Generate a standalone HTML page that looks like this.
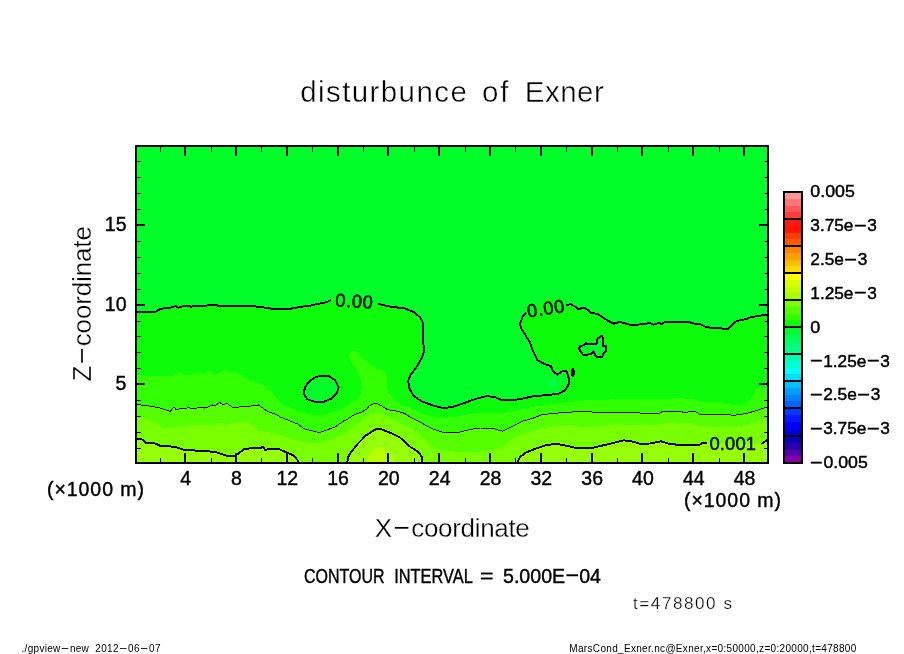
<!DOCTYPE html>
<html lang="en"><head><meta charset="utf-8"><title>disturbunce of Exner</title>
<style>
html,body{margin:0;padding:0;background:#fff;}
body{width:904px;height:654px;overflow:hidden;font-family:"Liberation Sans",sans-serif;}
svg{display:block;will-change:transform;}
text{font-family:"Liberation Sans",sans-serif;fill:#000;}
.thin1{stroke:#fff;stroke-width:.4px;}
.thin2{stroke:#fff;stroke-width:.3px;}
.thin3{stroke:#fff;stroke-width:.25px;}
.bold{stroke:#000;stroke-width:.45px;}
.semi{stroke:#000;stroke-width:.4px;}
</style></head><body>
<svg width="904" height="654" viewBox="0 0 904 654">
<rect width="904" height="654" fill="#fff"/>
<g shape-rendering="crispEdges" stroke="none">
<rect x="136" y="146" width="632" height="317" fill="#00ff28"/>
<polygon fill="#0cfc0a" points="136.0,312.1 156.1,311.5 160.5,308.8 170.5,307.7 176.0,305.9 178.2,307.7 183.8,305.9 191.5,306.6 197.0,305.5 207.0,305.5 209.2,304.8 217.0,304.8 218.0,305.9 254.6,305.9 256.8,306.8 262.3,306.8 264.5,307.7 269.0,307.7 271.2,308.8 291.0,308.8 293.3,307.7 301.0,307.3 304.4,305.9 311.0,305.5 315.4,304.4 321.0,303.3 326.5,302.2 330.9,300.0 378.2,303.9 390.1,306.6 404.8,308.4 413.9,312.1 420.4,317.6 423.1,323.1 423.1,344.2 424.0,346.0 423.5,353.4 421.3,358.9 415.8,368.1 410.3,375.4 408.1,380.9 409.4,388.3 413.3,395.6 422.1,401.6 433.2,405.5 442.0,407.7 450.9,407.4 461.9,403.8 477.4,398.3 486.3,396.3 494.0,396.7 501.6,400.0 510.7,400.4 521.7,398.9 532.8,396.3 545.6,395.2 558.4,393.9 564.9,390.3 568.5,384.8 568.5,377.4 566.7,371.4 562.1,371.4 557.5,374.7 552.9,371.0 551.1,366.4 543.8,363.7 537.3,360.0 536.4,358.0 532.8,350.6 530.0,342.4 525.4,335.0 521.7,329.5 519.9,324.0 522.7,316.7 526.3,313.0 523.6,313.9 536.9,305.3 549.5,298.3 558.1,298.3 565.4,305.9 565.8,305.7 570.4,303.9 575.0,306.6 578.6,309.4 582.3,307.5 584.6,307.5 591.0,312.7 597.4,313.9 607.5,320.4 613.9,323.7 619.4,321.8 629.5,324.6 638.7,324.6 649.7,323.1 653.4,324.6 658.9,322.8 661.7,324.0 665.3,321.8 690.1,321.8 691.5,323.3 700.6,324.2 705.2,326.7 711.0,327.8 720.1,328.4 728.2,328.8 735.0,321.9 740.8,320.0 746.5,319.2 748.8,317.8 758.0,315.8 768.0,314.7 768.0,463.0 136.0,463.0"/>
<polygon fill="#00ff28" points="323.1,375.6 329.5,376.5 335.0,380.2 338.7,387.5 336.9,393.0 331.4,398.5 324.0,401.8 314.9,401.8 307.5,399.4 303.9,393.9 304.8,387.5 309.4,381.1 315.8,376.9"/>
<polygon fill="#00ff28" points="579.1,348.5 580.2,346.0 583.3,345.5 585.5,343.0 587.7,344.4 591.3,344.1 596.5,343.6 597.1,341.6 597.7,338.3 599.9,337.5 601.5,335.8 602.6,337.2 602.9,341.6 603.2,345.8 606.0,346.0 606.0,350.7 603.7,353.2 602.6,354.9 602.4,356.8 596.5,356.8 594.9,354.3 593.5,351.3 591.6,353.5 588.3,354.3 587.1,355.2 583.3,355.2 581.9,353.2 580.0,350.7"/>
<circle cx="553" cy="382.8" r="3.6" fill="#00ff50"/>
<polygon fill="#32ff00" points="136.0,374.4 148.3,376.2 172.2,375.8 175.9,373.2 183.2,373.6 188.7,375.8 194.2,373.2 207.0,372.7 210.7,370.8 214.4,375.4 225.4,369.9 230.9,373.6 234.6,371.2 240.1,374.5 247.4,379.6 258.4,382.9 267.6,387.5 275.0,395.8 280.5,403.1 289.2,407.7 298.3,411.4 311.2,415.0 322.2,415.0 335.0,411.4 342.2,408.5 354.4,401.1 360.6,395.0 362.4,386.5 361.2,379.1 356.9,370.6 352.0,363.2 348.9,355.9 351.4,351.6 356.3,351.0 361.8,357.1 369.1,363.8 376.5,368.7 383.8,370.6 387.5,374.8 386.8,382.8 387.5,391.3 391.1,396.2 400.0,404.4 411.1,408.3 422.1,413.8 433.2,416.6 444.2,417.7 455.3,417.1 466.4,414.9 477.4,413.3 488.5,412.7 503.4,413.0 518.1,410.5 532.8,406.8 547.4,405.0 562.1,403.1 576.8,401.3 590.0,399.8 616.7,399.4 671.7,398.5 680.0,398.0 697.2,399.7 700.0,401.9 721.4,402.4 732.1,405.1 742.8,404.6 750.3,400.3 753.5,395.0 755.7,389.6 758.3,388.0 768.0,388.3 768.0,463.0 136.0,463.0"/>
<polygon fill="#55ff00" points="136.0,404.4 148.3,405.9 159.4,407.7 170.4,411.4 174.0,406.8 175.9,409.5 188.7,407.7 194.2,409.0 199.7,407.3 205.2,408.1 212.6,405.0 214.4,405.9 219.9,402.6 222.7,404.4 227.2,403.7 232.8,407.3 238.3,407.2 243.8,406.2 254.8,405.9 258.4,405.0 267.6,411.4 276.8,414.7 280.0,416.9 289.2,420.6 298.3,424.2 303.9,428.8 311.2,430.6 319.4,432.5 327.7,429.7 335.0,427.0 344.2,420.6 347.1,419.5 354.4,414.6 361.8,412.1 366.7,409.1 369.1,406.0 374.6,403.3 378.9,404.2 387.5,409.7 396.0,410.9 404.6,413.3 411.1,417.7 422.1,423.2 431.0,428.2 442.0,432.1 459.7,432.1 470.8,429.3 479.6,428.0 491.8,428.2 502.5,431.2 510.7,427.0 521.7,421.5 532.8,418.3 541.9,414.7 554.8,413.2 569.4,412.3 582.3,411.0 590.0,411.9 598.3,412.3 638.7,412.8 642.4,413.6 658.9,413.6 662.6,411.4 680.9,411.4 684.6,412.9 689.2,411.8 696.1,412.0 699.5,414.1 728.2,414.1 730.5,415.0 736.2,415.0 746.5,413.5 758.0,410.1 768.0,406.6 768.0,463.0 136.0,463.0"/>
<polygon fill="#78ff00" points="136.0,417.2 144.7,418.7 150.2,421.5 157.5,423.3 163.0,427.9 174.0,427.9 181.4,427.0 192.4,424.6 203.4,424.2 214.4,426.0 219.9,422.4 225.4,425.1 234.6,422.4 243.8,421.5 251.1,424.2 258.4,430.6 269.4,432.5 276.8,434.3 284.1,437.0 289.2,437.0 298.3,440.7 309.4,442.6 322.2,442.6 333.2,438.9 344.2,433.4 355.2,426.0 364.4,418.7 371.7,414.1 377.2,413.2 386.4,416.0 397.4,420.6 400.0,423.2 411.1,428.2 422.1,437.0 428.8,443.7 436.5,449.2 449.8,451.4 466.4,452.0 483.0,451.4 500.0,448.1 512.6,438.9 525.4,433.4 540.1,428.8 554.8,426.0 573.1,425.1 580.0,427.0 598.3,426.4 616.7,424.2 635.0,425.1 653.4,425.1 671.7,422.4 690.1,423.3 697.2,425.6 714.4,426.7 731.6,427.3 743.1,425.6 754.5,422.7 768.0,418.1 768.0,463.0 136.0,463.0"/>
<polygon fill="#96ff0a" points="136.0,438.9 141.0,438.5 145.6,442.6 153.9,442.9 161.2,446.2 174.0,446.6 183.2,449.5 203.4,451.2 214.4,451.7 226.3,455.6 235.5,455.6 243.8,449.4 249.3,448.4 260.3,448.4 263.0,446.6 264.9,449.9 271.3,448.6 278.6,449.0 287.3,452.7 293.8,455.4 297.4,460.0 298.3,463.0 136.0,463.0"/>
<polygon fill="#96ff0a" points="347.0,463.0 348.8,455.4 357.1,444.4 366.2,435.2 375.4,429.4 380.0,428.8 384.6,430.6 393.8,434.3 400.0,437.6 411.1,447.5 417.7,451.4 421.6,456.4 422.2,463.0"/>
<polygon fill="#96ff0a" points="517.2,463.0 519.9,457.2 525.4,452.7 534.6,449.0 545.6,445.3 554.8,443.9 562.1,444.8 575.0,447.7 592.8,447.7 607.5,444.4 616.7,442.0 623.1,440.4 629.5,440.7 640.6,443.9 649.7,443.5 660.7,441.3 668.1,443.5 679.1,445.0 699.5,444.8 702.9,442.8 706.9,442.8 710.0,443.5 756.0,444.5 761.4,443.9 768.0,439.3 768.0,463.0"/>
<polygon fill="#b9ff00" points="366.5,463.0 368.8,455.3 373.2,449.8 378.7,447.0 384.2,448.1 389.8,453.1 393.7,458.6 394.2,463.0"/>
</g>
<g shape-rendering="crispEdges" fill="none" stroke="#000" stroke-linejoin="round">
<polyline stroke-width="2" points="136.0,312.1 156.1,311.5 160.5,308.8 170.5,307.7 176.0,305.9 178.2,307.7 183.8,305.9 191.5,306.6 197.0,305.5 207.0,305.5 209.2,304.8 217.0,304.8 218.0,305.9 254.6,305.9 256.8,306.8 262.3,306.8 264.5,307.7 269.0,307.7 271.2,308.8 291.0,308.8 293.3,307.7 301.0,307.3 304.4,305.9 311.0,305.5 315.4,304.4 321.0,303.3 326.5,302.2 330.9,300.0"/>
<polyline stroke-width="2" points="378.2,303.9 390.1,306.6 404.8,308.4 413.9,312.1 420.4,317.6 423.1,323.1 423.1,344.2 424.0,346.0 423.5,353.4 421.3,358.9 415.8,368.1 410.3,375.4 408.1,380.9 409.4,388.3 413.3,395.6 422.1,401.6 433.2,405.5 442.0,407.7 450.9,407.4 461.9,403.8 477.4,398.3 486.3,396.3 494.0,396.7 501.6,400.0 510.7,400.4 521.7,398.9 532.8,396.3 545.6,395.2 558.4,393.9 564.9,390.3 568.5,384.8 568.5,377.4 566.7,371.4 562.1,371.4 557.5,374.7 552.9,371.0 551.1,366.4 543.8,363.7 537.3,360.0 536.4,358.0 532.8,350.6 530.0,342.4 525.4,335.0 521.7,329.5 519.9,324.0 522.7,316.7 526.3,313.0"/>
<polyline stroke-width="2" points="565.8,305.7 570.4,303.9 575.0,306.6 578.6,309.4 582.3,307.5 584.6,307.5 591.0,312.7 597.4,313.9 607.5,320.4 613.9,323.7 619.4,321.8 629.5,324.6 638.7,324.6 649.7,323.1 653.4,324.6 658.9,322.8 661.7,324.0 665.3,321.8 690.1,321.8 691.5,323.3 700.6,324.2 705.2,326.7 711.0,327.8 720.1,328.4 728.2,328.8 735.0,321.9 740.8,320.0 746.5,319.2 748.8,317.8 758.0,315.8 768.0,314.7"/>
<polyline stroke-width="2" points="136.0,438.9 141.0,438.5 145.6,442.6 153.9,442.9 161.2,446.2 174.0,446.6 183.2,449.5 203.4,451.2 214.4,451.7 226.3,455.6 235.5,455.6 243.8,449.4 249.3,448.4 260.3,448.4 263.0,446.6 264.9,449.9 271.3,448.6 278.6,449.0 287.3,452.7 293.8,455.4 297.4,460.0 298.3,463.0"/>
<polyline stroke-width="2" points="347.0,463.0 348.8,455.4 357.1,444.4 366.2,435.2 375.4,429.4 380.0,428.8 384.6,430.6 393.8,434.3 400.0,437.6 411.1,447.5 417.7,451.4 421.6,456.4 422.2,463.0"/>
<polyline stroke-width="2" points="517.2,463.0 519.9,457.2 525.4,452.7 534.6,449.0 545.6,445.3 554.8,443.9 562.1,444.8 575.0,447.7 592.8,447.7 607.5,444.4 616.7,442.0 623.1,440.4 629.5,440.7 640.6,443.9 649.7,443.5 660.7,441.3 668.1,443.5 679.1,445.0 699.5,444.8 702.9,442.8 706.9,442.8"/>
<polyline stroke-width="2" points="761.4,443.9 768.0,439.3"/>
<polygon stroke-width="2" points="323.1,375.6 329.5,376.5 335.0,380.2 338.7,387.5 336.9,393.0 331.4,398.5 324.0,401.8 314.9,401.8 307.5,399.4 303.9,393.9 304.8,387.5 309.4,381.1 315.8,376.9"/>
<polygon stroke-width="2" points="579.1,348.5 580.2,346.0 583.3,345.5 585.5,343.0 587.7,344.4 591.3,344.1 596.5,343.6 597.1,341.6 597.7,338.3 599.9,337.5 601.5,335.8 602.6,337.2 602.9,341.6 603.2,345.8 606.0,346.0 606.0,350.7 603.7,353.2 602.6,354.9 602.4,356.8 596.5,356.8 594.9,354.3 593.5,351.3 591.6,353.5 588.3,354.3 587.1,355.2 583.3,355.2 581.9,353.2 580.0,350.7"/>
<polyline stroke-width="1" points="136.0,404.4 148.3,405.9 159.4,407.7 170.4,411.4 174.0,406.8 175.9,409.5 188.7,407.7 194.2,409.0 199.7,407.3 205.2,408.1 212.6,405.0 214.4,405.9 219.9,402.6 222.7,404.4 227.2,403.7 232.8,407.3 238.3,407.2 243.8,406.2 254.8,405.9 258.4,405.0 267.6,411.4 276.8,414.7 280.0,416.9 289.2,420.6 298.3,424.2 303.9,428.8 311.2,430.6 319.4,432.5 327.7,429.7 335.0,427.0 344.2,420.6 347.1,419.5 354.4,414.6 361.8,412.1 366.7,409.1 369.1,406.0 374.6,403.3 378.9,404.2 387.5,409.7 396.0,410.9 404.6,413.3 411.1,417.7 422.1,423.2 431.0,428.2 442.0,432.1 459.7,432.1 470.8,429.3 479.6,428.0 491.8,428.2 502.5,431.2 510.7,427.0 521.7,421.5 532.8,418.3 541.9,414.7 554.8,413.2 569.4,412.3 582.3,411.0 590.0,411.9 598.3,412.3 638.7,412.8 642.4,413.6 658.9,413.6 662.6,411.4 680.9,411.4 684.6,412.9 689.2,411.8 696.1,412.0 699.5,414.1 728.2,414.1 730.5,415.0 736.2,415.0 746.5,413.5 758.0,410.1 768.0,406.6"/>
<ellipse cx="572.8" cy="372.7" rx="2" ry="4.6" fill="#000" stroke="none"/>
</g>
<g shape-rendering="crispEdges" stroke="#000" fill="none">
<path stroke-width="1" d="M160.5 463 V458 M160.5 146 V152"/>
<path stroke-width="2" d="M185 463 V453 M185 146 V156"/>
<path stroke-width="1" d="M211.5 463 V458 M211.5 146 V152"/>
<path stroke-width="2" d="M236 463 V453 M236 146 V156"/>
<path stroke-width="1" d="M261.5 463 V458 M261.5 146 V152"/>
<path stroke-width="2" d="M287 463 V453 M287 146 V156"/>
<path stroke-width="1" d="M312.5 463 V458 M312.5 146 V152"/>
<path stroke-width="2" d="M338 463 V453 M338 146 V156"/>
<path stroke-width="1" d="M363.5 463 V458 M363.5 146 V152"/>
<path stroke-width="2" d="M388 463 V453 M388 146 V156"/>
<path stroke-width="1" d="M414.5 463 V458 M414.5 146 V152"/>
<path stroke-width="2" d="M439 463 V453 M439 146 V156"/>
<path stroke-width="1" d="M465.5 463 V458 M465.5 146 V152"/>
<path stroke-width="2" d="M490 463 V453 M490 146 V156"/>
<path stroke-width="1" d="M515.5 463 V458 M515.5 146 V152"/>
<path stroke-width="2" d="M541 463 V453 M541 146 V156"/>
<path stroke-width="1" d="M566.5 463 V458 M566.5 146 V152"/>
<path stroke-width="2" d="M592 463 V453 M592 146 V156"/>
<path stroke-width="1" d="M617.5 463 V458 M617.5 146 V152"/>
<path stroke-width="2" d="M642 463 V453 M642 146 V156"/>
<path stroke-width="1" d="M668.5 463 V458 M668.5 146 V152"/>
<path stroke-width="2" d="M693 463 V453 M693 146 V156"/>
<path stroke-width="1" d="M719.5 463 V458 M719.5 146 V152"/>
<path stroke-width="2" d="M744 463 V453 M744 146 V156"/>
<path stroke-width="1" d="M136 448.5 H141 M768 448.5 H764"/>
<path stroke-width="1" d="M136 432.5 H141 M768 432.5 H764"/>
<path stroke-width="1" d="M136 416.5 H141 M768 416.5 H764"/>
<path stroke-width="1" d="M136 400.5 H141 M768 400.5 H764"/>
<path stroke-width="2" d="M136 384 H145 M768 384 H759"/>
<path stroke-width="1" d="M136 368.5 H141 M768 368.5 H764"/>
<path stroke-width="1" d="M136 352.5 H141 M768 352.5 H764"/>
<path stroke-width="1" d="M136 336.5 H141 M768 336.5 H764"/>
<path stroke-width="1" d="M136 321.5 H141 M768 321.5 H764"/>
<path stroke-width="2" d="M136 305 H145 M768 305 H759"/>
<path stroke-width="1" d="M136 289.5 H141 M768 289.5 H764"/>
<path stroke-width="1" d="M136 273.5 H141 M768 273.5 H764"/>
<path stroke-width="1" d="M136 257.5 H141 M768 257.5 H764"/>
<path stroke-width="1" d="M136 241.5 H141 M768 241.5 H764"/>
<path stroke-width="2" d="M136 225 H145 M768 225 H759"/>
<path stroke-width="1" d="M136 209.5 H141 M768 209.5 H764"/>
<path stroke-width="1" d="M136 193.5 H141 M768 193.5 H764"/>
<path stroke-width="1" d="M136 177.5 H141 M768 177.5 H764"/>
<path stroke-width="1" d="M136 161.5 H141 M768 161.5 H764"/>
<rect x="136" y="146" width="632" height="317" stroke-width="2"/>
</g>
<g shape-rendering="crispEdges">
<rect x="784" y="192.00" width="18" height="7.25" fill="rgb(255,150,150)"/>
<rect x="784" y="198.75" width="18" height="7.25" fill="rgb(255,118,118)"/>
<rect x="784" y="205.50" width="18" height="7.25" fill="rgb(255,88,88)"/>
<rect x="784" y="212.25" width="18" height="7.25" fill="rgb(255,60,60)"/>
<rect x="784" y="219.00" width="18" height="7.25" fill="rgb(255,25,20)"/>
<rect x="784" y="225.75" width="18" height="7.25" fill="rgb(255,20,0)"/>
<rect x="784" y="232.50" width="18" height="7.25" fill="rgb(255,60,0)"/>
<rect x="784" y="239.25" width="18" height="7.25" fill="rgb(255,90,0)"/>
<rect x="784" y="246.00" width="18" height="7.25" fill="rgb(255,130,0)"/>
<rect x="784" y="252.75" width="18" height="7.25" fill="rgb(255,160,0)"/>
<rect x="784" y="259.50" width="18" height="7.25" fill="rgb(255,190,0)"/>
<rect x="784" y="266.25" width="18" height="7.25" fill="rgb(255,220,0)"/>
<rect x="784" y="273.00" width="18" height="7.25" fill="rgb(255,255,0)"/>
<rect x="784" y="279.75" width="18" height="7.25" fill="rgb(215,255,0)"/>
<rect x="784" y="286.50" width="18" height="7.25" fill="rgb(190,255,0)"/>
<rect x="784" y="293.25" width="18" height="7.25" fill="rgb(165,255,0)"/>
<rect x="784" y="300.00" width="18" height="7.25" fill="rgb(120,255,0)"/>
<rect x="784" y="306.75" width="18" height="7.25" fill="rgb(85,255,0)"/>
<rect x="784" y="313.50" width="18" height="7.25" fill="rgb(50,255,0)"/>
<rect x="784" y="320.25" width="18" height="7.25" fill="rgb(12,252,10)"/>
<rect x="784" y="327.00" width="18" height="7.25" fill="rgb(0,255,40)"/>
<rect x="784" y="333.75" width="18" height="7.25" fill="rgb(0,255,75)"/>
<rect x="784" y="340.50" width="18" height="7.25" fill="rgb(0,255,110)"/>
<rect x="784" y="347.25" width="18" height="7.25" fill="rgb(0,255,140)"/>
<rect x="784" y="354.00" width="18" height="7.25" fill="rgb(0,255,175)"/>
<rect x="784" y="360.75" width="18" height="7.25" fill="rgb(0,255,210)"/>
<rect x="784" y="367.50" width="18" height="7.25" fill="rgb(0,255,245)"/>
<rect x="784" y="374.25" width="18" height="7.25" fill="rgb(0,225,255)"/>
<rect x="784" y="381.00" width="18" height="7.25" fill="rgb(0,195,255)"/>
<rect x="784" y="387.75" width="18" height="7.25" fill="rgb(0,160,255)"/>
<rect x="784" y="394.50" width="18" height="7.25" fill="rgb(0,130,255)"/>
<rect x="784" y="401.25" width="18" height="7.25" fill="rgb(0,100,255)"/>
<rect x="784" y="408.00" width="18" height="7.50" fill="rgb(0,60,255)"/>
<rect x="784" y="415.00" width="18" height="7.50" fill="rgb(0,25,255)"/>
<rect x="784" y="422.00" width="18" height="7.50" fill="rgb(0,0,255)"/>
<rect x="784" y="429.00" width="18" height="7.50" fill="rgb(0,0,215)"/>
<rect x="784" y="436.00" width="18" height="7.25" fill="rgb(10,0,190)"/>
<rect x="784" y="442.75" width="18" height="7.25" fill="rgb(45,0,170)"/>
<rect x="784" y="449.50" width="18" height="7.25" fill="rgb(85,0,170)"/>
<rect x="784" y="456.25" width="18" height="7.25" fill="rgb(135,0,170)"/>
<path stroke="#000" stroke-width="2" d="M784 219 H802"/>
<path stroke="#000" stroke-width="2" d="M784 246 H802"/>
<path stroke="#000" stroke-width="2" d="M784 273 H802"/>
<path stroke="#000" stroke-width="2" d="M784 300 H802"/>
<path stroke="#000" stroke-width="2" d="M784 327 H802"/>
<path stroke="#000" stroke-width="2" d="M784 354 H802"/>
<path stroke="#000" stroke-width="2" d="M784 381 H802"/>
<path stroke="#000" stroke-width="2" d="M784 408 H802"/>
<path stroke="#000" stroke-width="2" d="M784 436 H802"/>
<rect x="784" y="192" width="18" height="271" fill="none" stroke="#000" stroke-width="2"/>
</g>
<text y="102" font-size="29.5" class="thin1"><tspan x="300.3" textLength="166.5" lengthAdjust="spacing">disturbunce</tspan> <tspan x="482.0" textLength="26.5" lengthAdjust="spacing">of</tspan> <tspan x="524.8" textLength="79" lengthAdjust="spacing">Exner</tspan></text>
<text transform="translate(374.80 537.00)" font-size="26" textLength="155.00" lengthAdjust="spacing" class="thin2">X<tspan textLength="19.8" lengthAdjust="spacingAndGlyphs" dy="-1.95">-</tspan><tspan dy="1.95">coordinate</tspan></text>
<text transform="translate(91.00 381.60) rotate(-90)" font-size="26" textLength="155.50" lengthAdjust="spacing" class="thin2">Z<tspan textLength="19.8" lengthAdjust="spacingAndGlyphs" dy="-1.95">-</tspan><tspan dy="1.95">coordinate</tspan></text>
<text transform="translate(180.18 485.00)" font-size="19.5" textLength="10.90" lengthAdjust="spacing" class="semi">4</text>
<text transform="translate(230.99 485.00)" font-size="19.5" textLength="10.90" lengthAdjust="spacing" class="semi">8</text>
<text transform="translate(276.41 485.00)" font-size="19.5" textLength="21.70" lengthAdjust="spacing" class="semi">12</text>
<text transform="translate(327.22 485.00)" font-size="19.5" textLength="21.70" lengthAdjust="spacing" class="semi">16</text>
<text transform="translate(378.04 485.00)" font-size="19.5" textLength="21.70" lengthAdjust="spacing" class="semi">20</text>
<text transform="translate(428.86 485.00)" font-size="19.5" textLength="21.70" lengthAdjust="spacing" class="semi">24</text>
<text transform="translate(479.67 485.00)" font-size="19.5" textLength="21.70" lengthAdjust="spacing" class="semi">28</text>
<text transform="translate(530.49 485.00)" font-size="19.5" textLength="21.70" lengthAdjust="spacing" class="semi">32</text>
<text transform="translate(581.30 485.00)" font-size="19.5" textLength="21.70" lengthAdjust="spacing" class="semi">36</text>
<text transform="translate(632.12 485.00)" font-size="19.5" textLength="21.70" lengthAdjust="spacing" class="semi">40</text>
<text transform="translate(682.94 485.00)" font-size="19.5" textLength="21.70" lengthAdjust="spacing" class="semi">44</text>
<text transform="translate(733.75 485.00)" font-size="19.5" textLength="21.70" lengthAdjust="spacing" class="semi">48</text>
<text transform="translate(115.60 390.00)" font-size="19.5" textLength="10.90" lengthAdjust="spacing" class="semi">5</text>
<text transform="translate(104.80 311.00)" font-size="19.5" textLength="21.70" lengthAdjust="spacing" class="semi">10</text>
<text transform="translate(104.80 231.00)" font-size="19.5" textLength="21.70" lengthAdjust="spacing" class="semi">15</text>
<text transform="translate(47.00 496.00)" font-size="19.5" textLength="97.00" lengthAdjust="spacing" class="semi">(&#215;1000 m)</text>
<text transform="translate(684.00 507.00)" font-size="19.5" textLength="97.00" lengthAdjust="spacing" class="semi">(&#215;1000 m)</text>
<text transform="translate(810.30 197.00)" font-size="17" textLength="44.50" lengthAdjust="spacingAndGlyphs" class="bold">0.005</text>
<text transform="translate(810.30 230.90)" font-size="17" textLength="66.50" lengthAdjust="spacingAndGlyphs" class="bold">3.75e<tspan textLength="13.6" lengthAdjust="spacingAndGlyphs" dy="-1.27">-</tspan><tspan dy="1.27">3</tspan></text>
<text transform="translate(810.30 264.80)" font-size="17" textLength="57.00" lengthAdjust="spacingAndGlyphs" class="bold">2.5e<tspan textLength="13.6" lengthAdjust="spacingAndGlyphs" dy="-1.27">-</tspan><tspan dy="1.27">3</tspan></text>
<text transform="translate(810.30 298.70)" font-size="17" textLength="66.50" lengthAdjust="spacingAndGlyphs" class="bold">1.25e<tspan textLength="13.6" lengthAdjust="spacingAndGlyphs" dy="-1.27">-</tspan><tspan dy="1.27">3</tspan></text>
<text transform="translate(810.30 332.60)" font-size="17" textLength="10.00" lengthAdjust="spacingAndGlyphs" class="bold">0</text>
<text transform="translate(809.40 366.50)" font-size="17" textLength="80.40" lengthAdjust="spacingAndGlyphs" class="bold"><tspan textLength="13.6" lengthAdjust="spacingAndGlyphs" dy="-1.27">-</tspan><tspan dy="1.27">1.25e</tspan><tspan textLength="13.6" lengthAdjust="spacingAndGlyphs" dy="-1.27">-</tspan><tspan dy="1.27">3</tspan></text>
<text transform="translate(809.40 400.40)" font-size="17" textLength="70.90" lengthAdjust="spacingAndGlyphs" class="bold"><tspan textLength="13.6" lengthAdjust="spacingAndGlyphs" dy="-1.27">-</tspan><tspan dy="1.27">2.5e</tspan><tspan textLength="13.6" lengthAdjust="spacingAndGlyphs" dy="-1.27">-</tspan><tspan dy="1.27">3</tspan></text>
<text transform="translate(809.40 434.30)" font-size="17" textLength="80.40" lengthAdjust="spacingAndGlyphs" class="bold"><tspan textLength="13.6" lengthAdjust="spacingAndGlyphs" dy="-1.27">-</tspan><tspan dy="1.27">3.75e</tspan><tspan textLength="13.6" lengthAdjust="spacingAndGlyphs" dy="-1.27">-</tspan><tspan dy="1.27">3</tspan></text>
<text transform="translate(809.40 468.20)" font-size="17" textLength="58.40" lengthAdjust="spacingAndGlyphs" class="bold"><tspan textLength="13.6" lengthAdjust="spacingAndGlyphs" dy="-1.27">-</tspan><tspan dy="1.27">0.005</tspan></text>
<text y="583" font-size="20.3" class="semi"><tspan x="304" textLength="80.5" lengthAdjust="spacingAndGlyphs">CONTOUR</tspan> <tspan x="394.2" textLength="78" lengthAdjust="spacingAndGlyphs">INTERVAL</tspan> <tspan x="480" textLength="13.5" lengthAdjust="spacingAndGlyphs">=</tspan> <tspan x="503" textLength="98" lengthAdjust="spacingAndGlyphs">5.000E<tspan textLength="14.6" lengthAdjust="spacingAndGlyphs" dy="-1.52">-</tspan><tspan dy="1.52">04</tspan></tspan></text>
<text transform="translate(633.00 609.00)" font-size="17" textLength="99.00" lengthAdjust="spacing" class="thin3">t=478800 s</text>
<text transform="translate(21.50 652.00)" font-size="10" textLength="139.00" lengthAdjust="spacing">./gpview<tspan textLength="9.0" lengthAdjust="spacingAndGlyphs" dy="-0.75">-</tspan><tspan dy="0.75">new&#160;&#160;2012</tspan><tspan textLength="9.0" lengthAdjust="spacingAndGlyphs" dy="-0.75">-</tspan><tspan dy="0.75">06</tspan><tspan textLength="9.0" lengthAdjust="spacingAndGlyphs" dy="-0.75">-</tspan><tspan dy="0.75">07</tspan></text>
<text transform="translate(569.30 652.00)" font-size="10" textLength="287.00" lengthAdjust="spacing">MarsCond_Exner.nc@Exner,x=0:50000,z=0:20000,t=478800</text>
<text transform="translate(335.00 306.30) rotate(3.5)" font-size="18.4" textLength="37.50" lengthAdjust="spacing" class="bold">0.00</text>
<text transform="translate(528.00 317.50) rotate(-8.5)" font-size="18.4" textLength="37.50" lengthAdjust="spacing" class="bold">0.00</text>
<text transform="translate(709.50 450.30)" font-size="18.4" textLength="46.50" lengthAdjust="spacing" class="bold">0.001</text>
</svg></body></html>
